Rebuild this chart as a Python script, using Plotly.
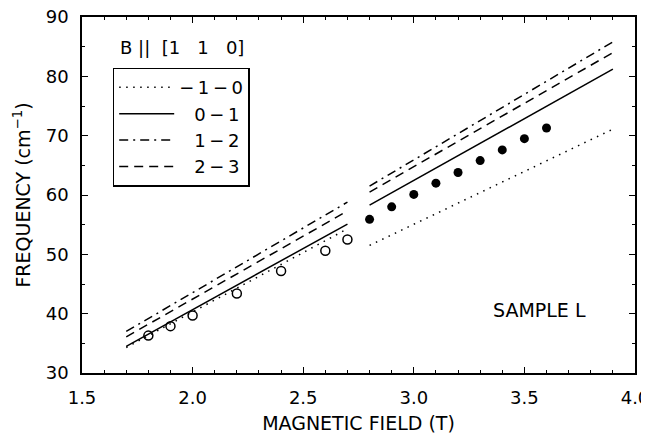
import plotly.graph_objects as go

# Measured points
open_x = [1.8, 1.9, 2.0, 2.2, 2.4, 2.6, 2.7]
open_y = [36.3, 37.9, 39.7, 43.4, 47.2, 50.6, 52.5]
filled_x = [2.8, 2.9, 3.0, 3.1, 3.2, 3.3, 3.4, 3.5, 3.6]
filled_y = [55.9, 58.0, 60.1, 62.0, 63.8, 65.8, 67.6, 69.5, 71.3]

# Calculated transition lines (two field ranges)
line_x = [1.7, 2.7, None, 2.8, 3.9]
trans_m1_0 = [34.3, 54.3, None, 51.5, 71.1]
trans_0_1 = [34.5, 55.1, None, 58.3, 81.2]
trans_1_2 = [37.0, 58.8, None, 61.5, 85.8]
trans_2_3 = [36.1, 57.3, None, 60.5, 84.0]

T = "\u2009"   # thin space
M = "\u2212"   # minus sign
P = "\u2007" + T  # pad equal to a minus + thin space
names = [M + T + "1" + T + M + T + "0",
         P + "0" + T + M + T + "1",
         P + "1" + T + M + T + "2",
         P + "2" + T + M + T + "3"]
series = [trans_m1_0, trans_0_1, trans_1_2, trans_2_3]
dashes = ["1.5px,5.5px", "solid", "9px,5px,2px,5px", "9px,6px"]

FONT = "DejaVu Sans"
fig = go.Figure()
for nm, ys, d in zip(names, series, dashes):
    fig.add_trace(go.Scatter(x=line_x, y=ys, mode="lines", name=nm,
                             line=dict(color="black", width=1.5, dash=d)))

fig.add_trace(go.Scatter(x=open_x, y=open_y, mode="markers", showlegend=False,
                         marker=dict(symbol="circle-open", size=9, color="black",
                                     line=dict(width=1.5, color="black"))))
fig.add_trace(go.Scatter(x=filled_x, y=filled_y, mode="markers", showlegend=False,
                         marker=dict(symbol="circle", size=9, color="black")))

axis_common = dict(showline=True, linecolor="black", linewidth=1.5, mirror="ticks",
                   ticks="inside", ticklen=6, tickwidth=1.2, tickcolor="black",
                   showgrid=False, zeroline=False, automargin=False,
                   ticklabeloverflow="allow",
                   tickfont=dict(family=FONT, size=18, color="black"))
fig.update_xaxes(range=[1.5, 4.0], dtick=0.5, tick0=1.5, tickformat=".1f",
                 ticklabelstandoff=8,
                 minor=dict(dtick=0.1, ticks="inside", ticklen=3, tickwidth=1.2,
                            tickcolor="black", showgrid=False),
                 title=dict(text="MAGNETIC FIELD (T)", font=dict(family=FONT, size=19, color="black"),
                            standoff=10),
                 **axis_common)
fig.update_yaxes(range=[30, 90], dtick=10, ticklabelstandoff=8,
                 minor=dict(dtick=5, ticks="inside", ticklen=3, tickwidth=1.2,
                            tickcolor="black", showgrid=False),
                 title=dict(text="FREQUENCY (cm<sup>\u22121</sup>)",
                            font=dict(family=FONT, size=19, color="black"), standoff=10),
                 **axis_common)

fig.add_annotation(xref="paper", yref="paper", x=0.066, y=0.915, xanchor="left", yanchor="middle",
                   text="B " + "||" + "  [1   1   0]", showarrow=False,
                   font=dict(family=FONT, size=18, color="black"))
fig.add_annotation(x=3.566, y=40.6, text="SAMPLE L", showarrow=False,
                   font=dict(family=FONT, size=19, color="black"))

# page body adds an 8px margin, so the figure is 8px smaller than the window
fig.update_layout(
    width=641, height=426,
    margin=dict(l=74, r=14, t=9, b=61),
    plot_bgcolor="white", paper_bgcolor="white",
    legend=dict(x=0.0555, y=0.858, xanchor="left", yanchor="top",
                bordercolor="black", borderwidth=1.5, bgcolor="white",
                font=dict(family=FONT, size=18, color="black"),
                tracegroupgap=0, itemwidth=55),
)

fig.write_html("out.html")
